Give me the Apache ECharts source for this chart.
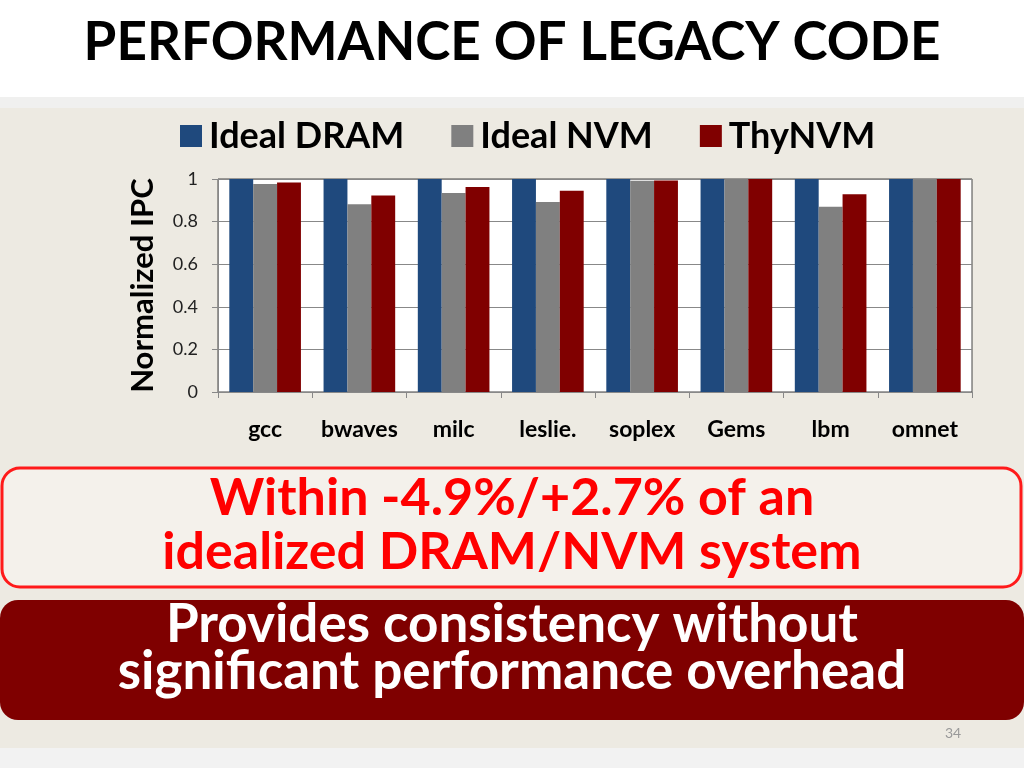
<!DOCTYPE html>
<html><head><meta charset="utf-8">
<script src="https://cdn.jsdelivr.net/npm/echarts@6/dist/echarts.min.js"></script>
<style>html,body{margin:0;padding:0;background:#fff}#c{width:1024px;height:768px}</style>
</head><body><div id="c"></div>
<script>
const categories = ['gcc','bwaves','milc','leslie.','soplex','Gems','lbm','omnet'];
const idealDRAM = [1,1,1,1,1,1,1,1];
const idealNVM = [0.977,0.881,0.934,0.892,0.992,1.0,0.870,0.998];
const thyNVM = [0.984,0.923,0.962,0.945,0.993,1.0,0.928,1.0];
const yTicks = [0,0.2,0.4,0.6,0.8,1];

const F = 'Lato, "Open Sans", sans-serif';
const chart = echarts.init(document.getElementById('c'));
chart.setOption({
  backgroundColor: '#ffffff',
  animation: false,
  graphic: [
    {type:'rect', z:-10, shape:{x:0,y:97,width:1024,height:12}, style:{fill:'#f0f0ef'}},
    {type:'rect', z:-10, shape:{x:0,y:108,width:1024,height:642}, style:{fill:'#edeae2'}},
    {type:'rect', z:-10, shape:{x:0,y:748,width:1024,height:20}, style:{fill:'#f2f2f2'}},
    {type:'text', x:512, y:43, style:{text:'PERFORMANCE OF LEGACY CODE', font:'bold 53px '+F, fill:'#000', align:'center', verticalAlign:'middle'}},
    {type:'rect', shape:{x:2,y:468,width:1019,height:119,r:18}, style:{fill:'#f4f1eb', stroke:'#ff1a1a', lineWidth:3}},
    {type:'text', x:512, y:525, style:{text:'Within -4.9%/+2.7% of an\nidealized DRAM/NVM system', font:'bold 52px '+F, fill:'#ff0000', align:'center', verticalAlign:'middle', lineHeight:54}},
    {type:'rect', shape:{x:0,y:600,width:1024,height:120,r:18}, style:{fill:'#7f0000'}},
    {type:'text', x:512, y:648, style:{text:'Provides consistency without\nsignificant performance overhead', font:'bold 53px '+F, fill:'#ffffff', align:'center', verticalAlign:'middle', lineHeight:47}},
    {type:'text', x:953, y:733, style:{text:'34', font:'14px '+F, fill:'#999', align:'center', verticalAlign:'middle'}}
  ],
  legend: {
    top: 113, left: 175,
    itemWidth: 22, itemHeight: 22, itemGap: 47,
    icon: 'rect',
    textStyle: {fontFamily: F, fontWeight: 'bold', fontSize: 36, color: '#000', padding:[0,0,0,2]},
    data: ['Ideal DRAM','Ideal NVM','ThyNVM']
  },
  grid: {left: 218, right: 52, top: 179, bottom: 376, show: true, backgroundColor: '#ffffff', borderColor: '#444', borderWidth: 1},
  xAxis: {
    type: 'category', data: categories,
    axisLine: {show: true, lineStyle: {color: '#888'}},
    axisTick: {show: true, length: 6, lineStyle: {color: '#888'}},
    axisLabel: {interval: 0, fontFamily: F, fontWeight: 'bold', fontSize: 23, color: '#000', margin: 26}
  },
  yAxis: {
    type: 'value', min: 0, max: 1, interval: 0.2,
    name: 'Normalized IPC', nameLocation: 'middle', nameGap: 60, nameRotate: 90,
    nameTextStyle: {fontFamily: F, fontWeight: 'bold', fontSize: 31, color: '#000'},
    axisLine: {show: true, lineStyle: {color: '#888'}},
    axisTick: {show: true, length: 6, lineStyle: {color: '#888'}},
    splitLine: {lineStyle: {color: '#888'}},
    axisLabel: {fontFamily: F, fontSize: 18, color: '#222', margin: 20,
      formatter: v => yTicks.includes(Math.round(v*10)/10) ? String(Math.round(v*10)/10) : ''}
  },
  series: [
    {name:'Ideal DRAM', type:'bar', data: idealDRAM, barGap: '0%', barCategoryGap: '24%', itemStyle:{color:'#1f497d'}},
    {name:'Ideal NVM', type:'bar', data: idealNVM, barGap: '0%', barCategoryGap: '24%', itemStyle:{color:'#808080'}},
    {name:'ThyNVM', type:'bar', data: thyNVM, barGap: '0%', barCategoryGap: '24%', itemStyle:{color:'#800000'}}
  ]
});
</script></body></html>
